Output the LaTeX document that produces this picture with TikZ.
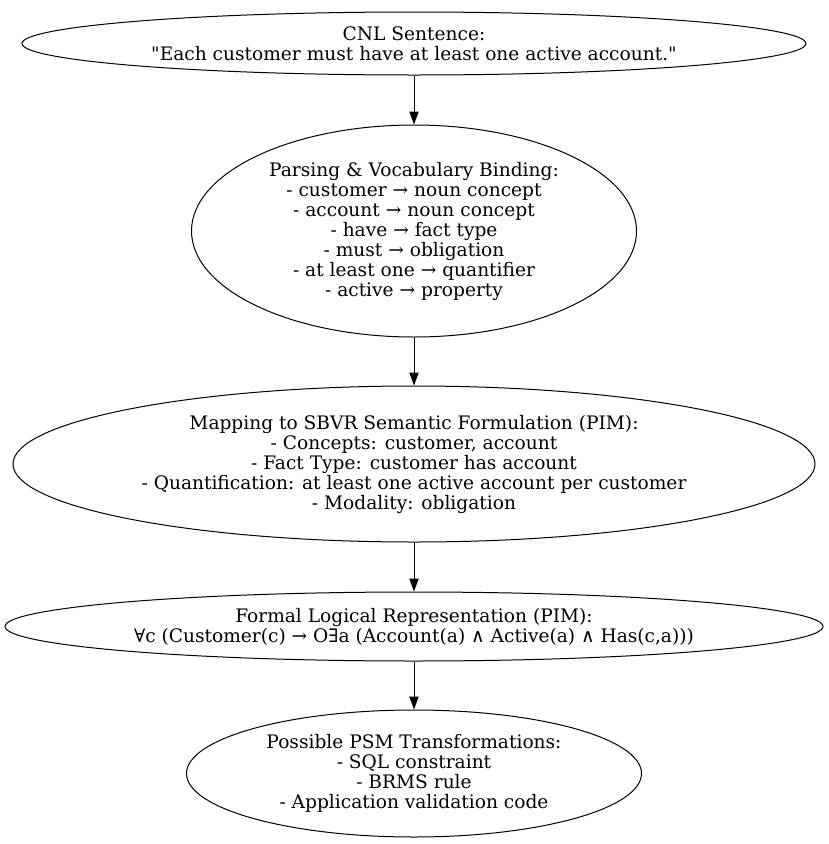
\documentclass[tikz,border=0pt]{standalone}
\usepackage{fontspec}
\setmainfont{DejaVu Serif}[Ligatures=TeXOff]
\usepackage{tikz}
\usetikzlibrary{shapes.geometric,arrows.meta}

\begin{document}
\begin{tikzpicture}[x=1pt,y=1pt,
  stage/.style={ellipse,draw,line width=1pt,inner sep=0pt,align=center,
    font=\fontsize{18.6}{20}\selectfont},
  flow/.style={-{Triangle[length=13pt,width=9.3pt]},line width=1pt}]
\useasboundingbox (0,0) rectangle (829,-844);
\node[stage,minimum width=784,minimum height=63] (cnl) at (414,-43.5)
  {CNL Sentence:\\"Each customer must have at least one active account."};
\node[stage,minimum width=445,minimum height=212] (parse) at (414,-231)
  {Parsing \& Vocabulary Binding:\\- customer → noun concept\\- account → noun concept\\- have → fact type\\- must → obligation\\- at least one → quantifier\\- active → property};
\node[stage,minimum width=802,minimum height=156] (sbvr) at (414,-464)
  {Mapping to SBVR Semantic Formulation (PIM):\\- Concepts: customer, account\\- Fact Type: customer has account\\- Quantification: at least one active account per customer\\- Modality: obligation};
\node[stage,minimum width=818,minimum height=69] (logic) at (414,-626.5)
  {Formal Logical Representation (PIM):\\∀c (Customer(c) → O∃a (Account(a) ∧ Active(a) ∧ Has(c,a)))};
\node[stage,minimum width=455,minimum height=127] (psm) at (414,-773.5)
  {Possible PSM Transformations:\\- SQL constraint\\- BRMS rule\\- Application validation code};
\foreach \a/\b in {cnl/parse,parse/sbvr,sbvr/logic,logic/psm}
  \draw[flow] (\a) -- (\b);
\end{tikzpicture}
\end{document}
